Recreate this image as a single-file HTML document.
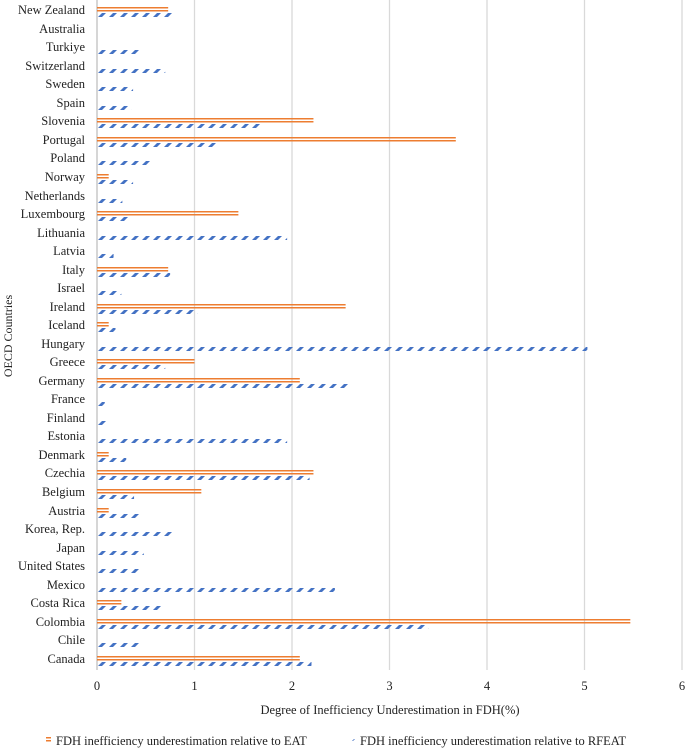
<!DOCTYPE html>
<html><head><meta charset="utf-8"><style>
body{margin:0;background:#fff;font-family:"Liberation Serif",serif;}
svg text{font-family:"Liberation Serif",serif;fill:#222;}
</style></head><body>
<svg width="685" height="749">
<defs id="defs"></defs>
<g id="grid"></g><g id="bars"></g><g id="labels"></g>
<text x="12" y="336" font-size="12" text-anchor="middle" transform="rotate(-90 12 336)">OECD Countries</text>
<text x="390" y="714" font-size="12.5" text-anchor="middle">Degree of Inefficiency Underestimation in FDH(%)</text>
<g>
<rect x="46" y="737" width="5" height="1.5" fill="#ed7d31"/><rect x="46" y="740" width="5" height="1.5" fill="#ed7d31"/>
<text x="56" y="745" font-size="12.5">FDH inefficiency underestimation relative to EAT</text></g>
<g>
<polygon points="352,741 354,739 355,739 353,741" fill="#4472c4"/>
<text x="360" y="745" font-size="12.5">FDH inefficiency underestimation relative to RFEAT</text></g>
</svg>
<script>
const countries=["New Zealand","Australia","Turkiye","Switzerland","Sweden","Spain","Slovenia","Portugal","Poland","Norway","Netherlands","Luxembourg","Lithuania","Latvia","Italy","Israel","Ireland","Iceland","Hungary","Greece","Germany","France","Finland","Estonia","Denmark","Czechia","Belgium","Austria","Korea, Rep.","Japan","United States","Mexico","Costa Rica","Colombia","Chile","Canada"];
const eatValues=[0.73,0,0,0,0,0,2.22,3.68,0,0.12,0,1.45,0,0,0.73,0,2.55,0.12,0,1.0,2.08,0,0,0,0.12,2.22,1.07,0.12,0,0,0,0,0.25,5.47,0,2.08];
const rfeatValues=[0.80,0,0.43,0.70,0.37,0.35,1.68,1.22,0.55,0.37,0.26,0.33,1.95,0.17,0.75,0.25,1.03,0.19,5.03,0.70,2.58,0.08,0.10,1.95,0.30,2.18,0.38,0.45,0.77,0.48,0.43,2.44,0.67,3.40,0.43,2.20];
const xTicks=[0,1,2,3,4,5,6];
const NS="http://www.w3.org/2000/svg";
const X0=97,X1=682,XMAX=6,TOP=3,BOT=670;
const xs=v=>X0+(X1-X0)*v/XMAX;
const band=(BOT-TOP)/countries.length;
const yc=i=>TOP+band*(i+0.5);
function mk(tag,attrs,parent){const e=document.createElementNS(NS,tag);for(const k in attrs)e.setAttribute(k,attrs[k]);document.getElementById(parent).appendChild(e);return e;}
xTicks.forEach(t=>{
 const l=mk('line',{x1:xs(t),x2:xs(t),y1:0,y2:BOT,stroke:t===0?'#bfbfbf':'#d9d9d9','stroke-width':1.3},'grid');
 
 
 const tx=mk('text',{x:xs(t),y:690,'font-size':12.5,'text-anchor':'middle'},'labels');
 tx.textContent=t;
 
 
});
countries.forEach((c,i)=>{
 const y=Math.round(yc(i));
 const tx=mk('text',{x:85,y:y+2,'font-size':12.5,'text-anchor':'end'},'labels');
 tx.textContent=c;
 
 
 if(eatValues[i]>0){
  const w=xs(eatValues[i])-X0;
  const g=mk('g',{},'bars');
  
  
  const a=document.createElementNS(NS,'rect');a.setAttribute('x',X0);a.setAttribute('y',y-5);a.setAttribute('width',w);a.setAttribute('height',1.5);a.setAttribute('fill','#ed7d31');g.appendChild(a);
  const b=document.createElementNS(NS,'rect');b.setAttribute('x',X0);b.setAttribute('y',y-2);b.setAttribute('width',w);b.setAttribute('height',1.5);b.setAttribute('fill','#ed7d31');g.appendChild(b);
 }
 if(rfeatValues[i]>0){
  const p=mk('pattern',{id:'dash'+i,patternUnits:'userSpaceOnUse',width:11,height:4,x:X0,y:y+1},'defs');
  const poly=document.createElementNS(NS,'polygon');
  poly.setAttribute('points','1,4 5,0 9,0 5,4');poly.setAttribute('fill','#4472c4');p.appendChild(poly);
  const r=mk('rect',{x:X0,y:y+1,width:xs(rfeatValues[i])-X0,height:4,fill:'url(#dash'+i+')'},'bars');
  
  
 }
});
</script>
</body></html>
